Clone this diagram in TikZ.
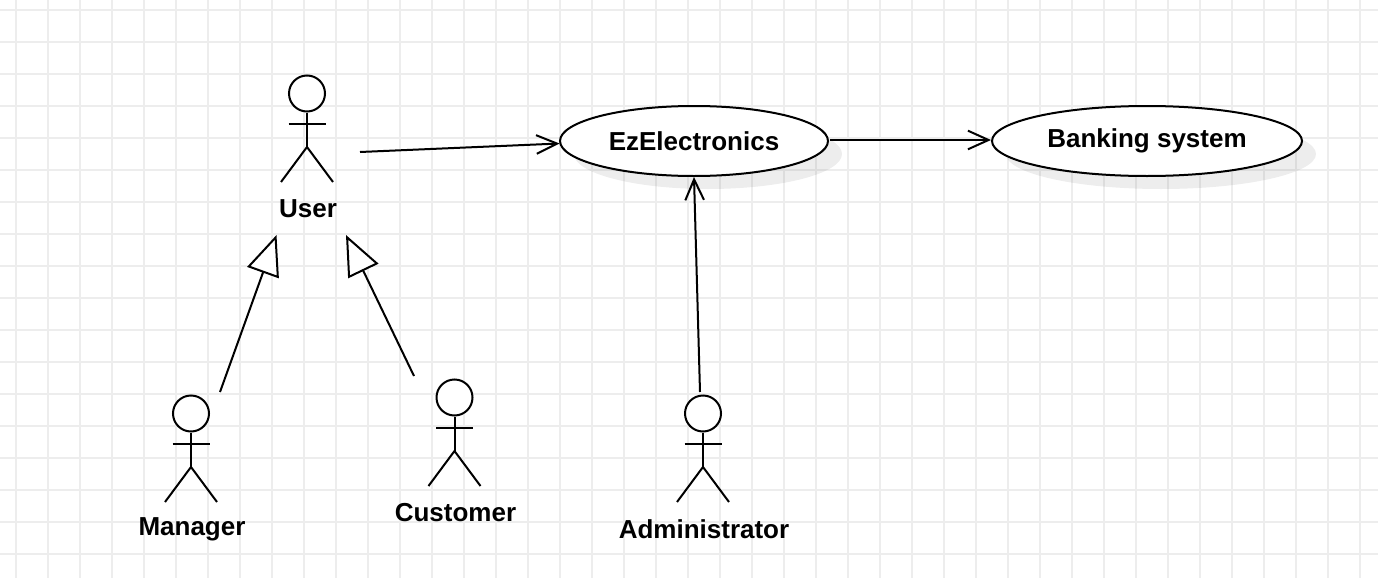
\documentclass[tikz,border=0pt]{standalone}
\usepackage{fontspec}
\setmainfont{Liberation Sans}
\usetikzlibrary{shapes.geometric,arrows.meta}
\newcommand{\stickfigure}[3]{%
  \node[headnode] (#1head) at (#2,#3) {};
  \coordinate (#1neck) at (#2,#3+18);
  \coordinate (#1hip) at (#2,#3+53.5);
  \draw[ink] (#1head.south) -- (#1hip);
  \draw[ink] (#2-18.5,#3+30.5) -- (#2+18.5,#3+30.5);
  \draw[ink] (#2-26,#3+88.5) -- (#1hip) -- (#2+26,#3+88.5);
}
\tikzset{
  x=0.75pt,y=-0.75pt,
  gridline/.style={draw=black!7,line width=1.4pt},
  ink/.style={draw=black,line width=1.5pt},
  headnode/.style={circle,draw=black,line width=1.5pt,fill=white,minimum size=27pt,inner sep=0pt},
  usecase/.style={ellipse,draw=black,line width=1.5pt,fill=white,inner sep=0pt,minimum height=52.5pt,font=\fontsize{19.5}{23}\selectfont\bfseries},
  shade/.style={ellipse,fill=black,fill opacity=0.07,inner sep=0pt,minimum height=52.5pt},
  label/.style={font=\fontsize{19.5}{23}\selectfont\bfseries,inner sep=0pt},
  assoc/.style={ink,-{Straight Barb[length=15.5pt,width=14pt,line width=1.5pt]}},
  generalize/.style={ink,-{Triangle[open,length=30pt,width=25pt,line width=1.5pt,fill=white]}},
}
\begin{document}
\begin{tikzpicture}
\useasboundingbox (0,0) rectangle (1378,578);
\fill[white] (0,0) rectangle (1378,578);
\foreach \gx in {16,48,...,1368} {\draw[gridline] (\gx,0) -- (\gx,578);}
\foreach \gy in {10,42,...,570} {\draw[gridline] (0,\gy) -- (1378,\gy);}

\node[shade,minimum width=201pt] (ezshade) at (708,154) {};
\node[shade,minimum width=232.5pt] (bankshade) at (1161,154) {};
\node[usecase,minimum width=201pt] (ez) at (694,141) {EzElectronics};
\node[usecase,minimum width=232.5pt] (bank) at (1147,141) {Banking system};

\stickfigure{user}{307}{93.5}
\stickfigure{manager}{191}{413.5}
\stickfigure{customer}{454.5}{397.5}
\stickfigure{admin}{703}{413.5}

\node[label] (userlabel) at (308,209) {User};
\node[label] (managerlabel) at (192,529) {Manager};
\node[label] (customerlabel) at (455.5,513) {Customer};
\node[label] (adminlabel) at (704,529) {Administrator};

\coordinate (userout) at (360,152);
\coordinate (usertipL) at (276.5,235);
\coordinate (usertipR) at (346,235);
\coordinate (managerout) at (220,392);
\coordinate (customerout) at (414,376);
\coordinate (adminout) at (700,392);
\coordinate (ezout) at (830,140);
\coordinate (bankin) at (991,140);
\coordinate (ezin) at (559.5,143.5);

\draw[assoc] (userout) -- (ezin);
\draw[assoc] (ezout) -- (bankin);
\draw[assoc] (adminout) -- (ez.south);
\draw[generalize] (managerout) -- (usertipL);
\draw[generalize] (customerout) -- (usertipR);
\end{tikzpicture}
\end{document}
